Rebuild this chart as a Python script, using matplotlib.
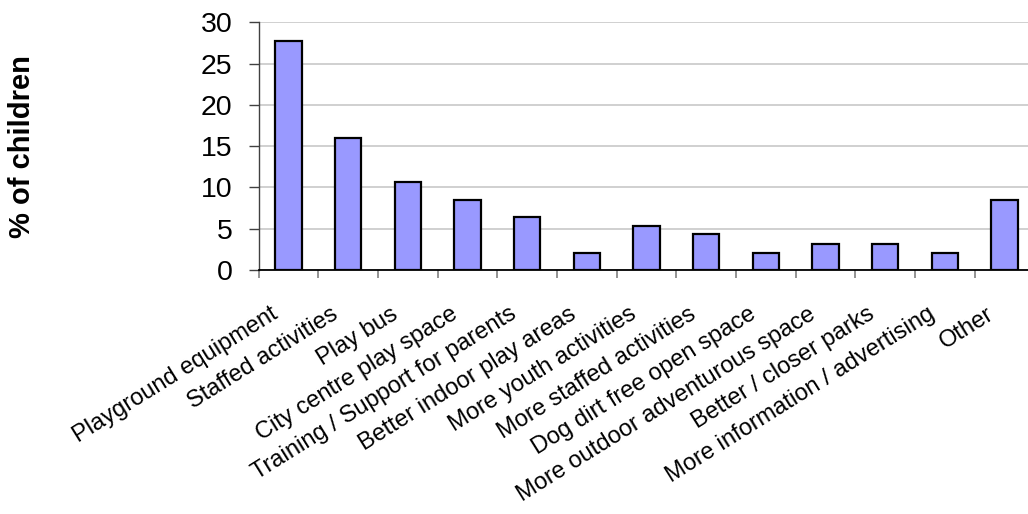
import matplotlib
matplotlib.use("Agg")
import matplotlib.pyplot as plt
import matplotlib.transforms as mtransforms
import numpy as np

categories = [
    "Playground equipment", "Staffed activities", "Play bus",
    "City centre play space", "Training / Support for parents",
    "Better indoor play areas", "More youth activities",
    "More staffed activities", "Dog dirt free open space",
    "More outdoor adventurous space", "Better / closer parks",
    "More information / advertising", "Other",
]
values = [27.7, 16.0, 10.6, 8.5, 6.4, 2.1, 5.3, 4.3, 2.1, 3.2, 3.2, 2.1, 8.5]
yticks = [0, 5, 10, 15, 20, 25, 30]
ylabel = "% of children"

plt.rcParams['font.family'] = ['Liberation Sans', 'DejaVu Sans']

W, H, DPI = 1028, 514, 100
fig = plt.figure(figsize=(W / DPI, H / DPI), dpi=DPI)
left, right, bottom, top = 258.7, 1034.3, 270.0, 22.3
ax = fig.add_axes([left / W, 1 - bottom / H, (right - left) / W, (bottom - top) / H])

x = np.arange(len(categories))
ax.bar(x, values, width=0.44, color="#9999FF", edgecolor="black", linewidth=1.6, zorder=3)

ax.set_xlim(-0.5, len(categories) - 0.5)
ax.set_ylim(0, 30)
ax.set_yticks(yticks)
ax.set_yticklabels([str(t) for t in yticks], fontsize=20.5)
ax.yaxis.grid(True, color="#c8c8c8", linewidth=1.2, zorder=0)
ax.set_axisbelow(True)

# category boundary ticks
ax.set_xticks(np.arange(len(categories) + 1) - 0.5)
ax.set_xticklabels([])
ax.tick_params(axis="x", length=5.8, width=1.2, color="#808080", direction="out")
ax.tick_params(axis="y", length=7.2, width=1.0, color="#404040", direction="out", pad=11.5)

# category labels
ax.set_xticks(x, minor=True)
ax.set_xticklabels(categories, minor=True, rotation=32, ha="right", va="top",
                   rotation_mode="anchor", fontsize=17)
ax.tick_params(axis="x", which="minor", length=0, pad=0)
offset = mtransforms.ScaledTranslation(-18 / DPI, -33 / DPI, fig.dpi_scale_trans)
for lbl in ax.xaxis.get_minorticklabels():
    lbl.set_transform(lbl.get_transform() + offset)

for s in ["top", "right"]:
    ax.spines[s].set_visible(False)
ax.spines["bottom"].set_color("black")
ax.spines["bottom"].set_linewidth(1.3)
ax.spines["left"].set_color("#404040")
ax.spines["left"].set_linewidth(1.0)

ax.set_ylabel(ylabel, fontsize=21, fontweight="bold")
ax.yaxis.set_label_coords((36 - left) / (right - left), 0.5)

fig.savefig("out.png", dpi=DPI)
